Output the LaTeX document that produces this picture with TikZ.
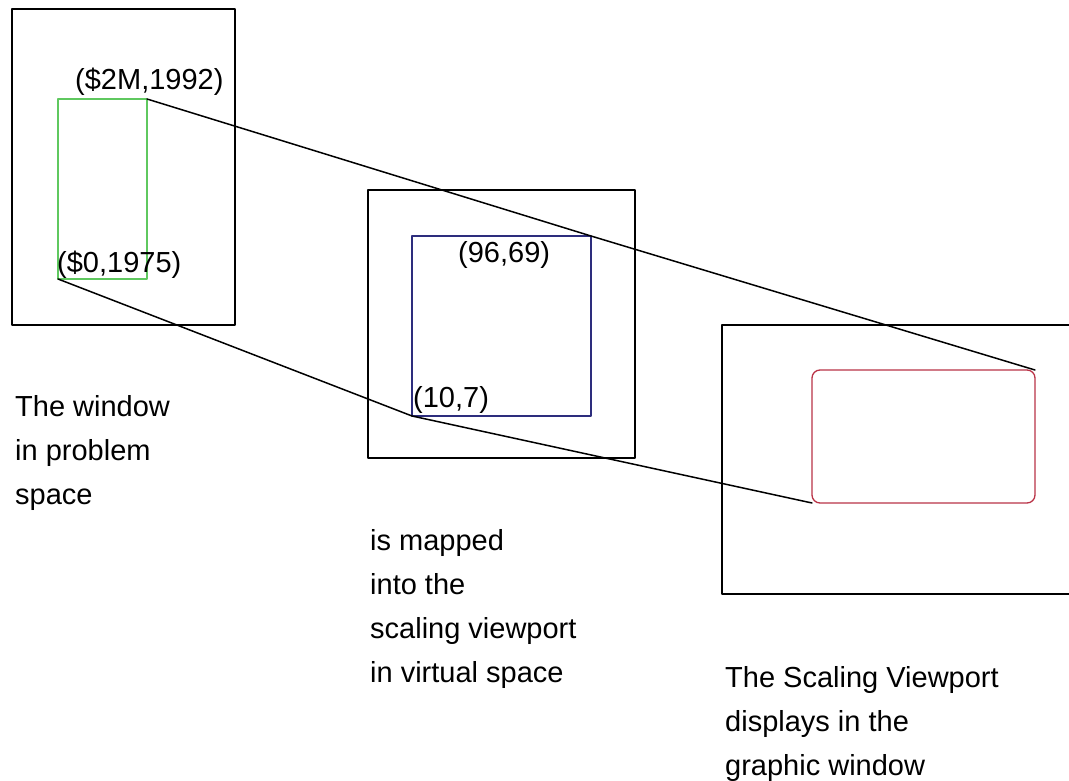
\documentclass[tikz,border=0pt]{standalone}
\usepackage{fontspec}
\setmainfont{Liberation Sans}
\usetikzlibrary{%
  calc,%
  positioning% wg. " of "
}
\definecolor{wingreen}{RGB}{95,200,95}
\definecolor{vpblue}{RGB}{45,45,125}
\definecolor{gwred}{RGB}{185,50,70}

\begin{document}
\begin{tikzpicture}[
    x=1pt,y=-1pt,
    line join=round,line cap=round,
    frame/.style={rectangle,draw,line width=1.6pt,inner sep=0pt,outer sep=0pt},
    viewbox/.style={rectangle,draw=#1,line width=1.3pt,inner sep=0pt,outer sep=0pt},
    corner/.style={anchor=base west,inner sep=0pt,font=\fontsize{29}{44}\selectfont},
    caption/.style={anchor=base west,inner sep=0pt,align=left,
        font=\fontsize{29}{44}\selectfont},
    mapline/.style={line width=1.5pt}
  ]
    \useasboundingbox (0,0) rectangle (1069,781);

    % problem space
    \node (probspace) [frame,minimum width=223pt,minimum height=316pt] at (123.5,167) {};
    \node (win) [viewbox=wingreen,minimum width=89pt,minimum height=180pt] at (102.5,189) {};
    \node (wintop) [corner] at (75,90) {(\$2M,1992)};
    \node (winbot) [corner] at (57,272) {(\$0,1975)};

    % virtual space
    \node (virtspace) [frame,minimum width=267pt,minimum height=268pt] at (501.5,324) {};
    \node (svp) [viewbox=vpblue,minimum width=179pt,minimum height=180pt] at (501.5,326) {};
    \node (svptop) [corner] at (458,262) {(96,69)};
    \node (svpbot) [corner] at (413,407) {(10,7)};

    % graphic window
    \coordinate (gwtr) at (1069,325);
    \coordinate (gwbr) at (1069,594);
    \draw[line width=1.6pt] (gwtr) -- (722,325) -- (722,594) -- (gwbr);
    \node (gwin) [viewbox=gwred,rounded corners=8pt,minimum width=223pt,minimum height=133pt] at (923.5,436.5) {};

    \draw[mapline] (win.north east) -- (svp.north east) -- (gwin.north east);
    \draw[mapline] (win.south west) -- (svp.south west) -- (gwin.south west);

    % base = last line
    \node (probtext) [caption] at (15,504) {The window\\in problem\\space};
    \node (virttext) [caption] at (370,682) {is mapped\\into the\\scaling viewport\\in virtual space};
    \node (gwtext) [caption] at (725,775) {The Scaling Viewport\\displays in the\\graphic window};
\end{tikzpicture}
\end{document}
